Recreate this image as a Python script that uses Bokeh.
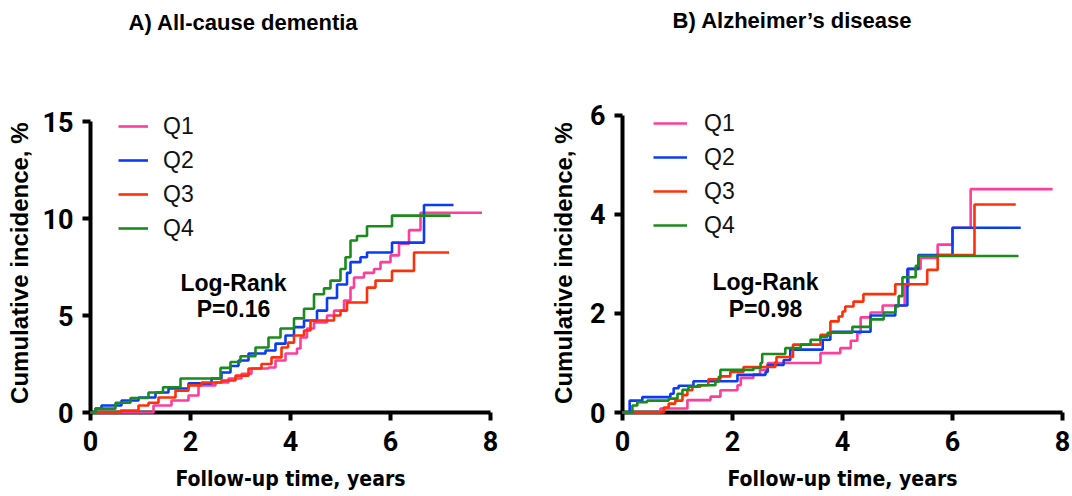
from bokeh.plotting import figure
from bokeh.models import Range1d, FixedTicker, Label, Legend, LegendItem
from bokeh.layouts import row
from bokeh.embed import file_html
from bokeh.resources import INLINE

SERIES = ["Q1", "Q2", "Q3", "Q4"]
COLORS = ["#FF3D9A", "#0B3CF5", "#FF3008", "#1B8B1B"]

# ---- Panel A: all-cause dementia (time in years, cumulative incidence %) ----
a_q1_t = [0, 1.26, 1.62, 1.96, 2.16, 2.5, 2.76, 3.02, 3.22, 3.56, 3.7, 3.9, 4.13, 4.2, 4.33, 4.47, 4.73, 4.87, 5.07, 5.2, 5.27, 5.47, 5.67, 5.8, 6.0, 6.17, 6.37, 6.6, 7.83]
a_q1_v = [0, 0.36, 0.62, 0.88, 1.4, 1.55, 1.75, 2.0, 2.27, 2.32, 2.68, 3.04, 3.3, 3.87, 4.33, 4.64, 5.0, 5.25, 5.77, 6.44, 6.96, 7.2, 7.4, 7.75, 8.1, 8.7, 9.4, 10.3, 10.3]
a_q2_t = [0, 0.1, 0.22, 0.62, 0.96, 1.3, 1.56, 1.96, 2.42, 2.62, 2.8, 2.96, 3.16, 3.5, 3.7, 3.9, 4.07, 4.27, 4.53, 4.73, 4.93, 5.13, 5.2, 5.4, 5.53, 6.03, 6.67, 7.26]
a_q2_v = [0, 0.2, 0.36, 0.62, 0.77, 1.03, 1.24, 1.5, 1.75, 2.06, 2.4, 2.68, 3.04, 3.2, 3.55, 3.97, 4.4, 4.74, 5.25, 5.9, 6.6, 7.2, 7.75, 8.0, 8.25, 8.76, 10.7, 10.7]
a_q3_t = [0, 0.6, 0.96, 1.16, 1.36, 1.7, 1.96, 2.22, 2.62, 2.9, 3.16, 3.42, 3.62, 3.82, 3.95, 4.07, 4.27, 4.4, 4.87, 5.0, 5.13, 5.53, 5.7, 6.03, 6.47, 7.17]
a_q3_v = [0, 0.1, 0.36, 0.5, 0.77, 1.13, 1.4, 1.55, 1.65, 1.9, 2.27, 2.5, 2.84, 3.35, 3.6, 3.97, 4.23, 4.74, 5.0, 5.25, 5.67, 6.44, 6.8, 7.3, 8.25, 8.25]
a_q4_t = [0, 0.1, 0.5, 0.8, 1.16, 1.45, 1.8, 2.6, 2.8, 3.0, 3.3, 3.56, 3.8, 4.07, 4.27, 4.47, 4.67, 4.8, 5.0, 5.1, 5.2, 5.33, 5.53, 6.03, 7.2]
a_q4_v = [0, 0.2, 0.5, 0.75, 1.03, 1.3, 1.75, 2.3, 2.6, 2.9, 3.35, 3.87, 4.33, 4.85, 5.35, 6.1, 6.4, 6.8, 7.4, 8.0, 8.87, 9.1, 9.6, 10.15, 10.15]

# ---- Panel B: Alzheimer's disease ----
b_q1_t = [0, 0.69, 1.18, 1.6, 1.78, 2.09, 2.15, 2.38, 2.5, 2.64, 3.6, 3.96, 4.15, 4.27, 4.33, 4.51, 4.73, 5.13, 5.2, 5.42, 5.73, 6.0, 6.33, 7.82]
b_q1_v = [0, 0.08, 0.25, 0.32, 0.45, 0.55, 0.7, 0.77, 0.86, 1.0, 1.2, 1.3, 1.45, 1.6, 1.92, 2.02, 2.16, 2.55, 2.9, 3.12, 3.39, 3.73, 4.51, 4.51]
b_q2_t = [0, 0.13, 0.36, 0.87, 0.93, 1.02, 1.29, 2.09, 2.6, 2.64, 2.93, 3.05, 3.64, 3.78, 4.51, 4.96, 5.18, 5.38, 6.0, 7.24]
b_q2_v = [0, 0.24, 0.31, 0.38, 0.49, 0.54, 0.63, 0.76, 0.82, 0.96, 1.06, 1.27, 1.47, 1.63, 1.96, 2.16, 2.9, 3.18, 3.73, 3.73]
b_q3_t = [0, 0.75, 0.84, 0.96, 1.09, 1.18, 1.27, 1.42, 1.56, 1.78, 1.96, 2.2, 2.78, 2.8, 3.1, 3.6, 3.78, 3.93, 4.0, 4.05, 4.2, 4.38, 4.96, 5.54, 5.73, 6.4, 7.15]
b_q3_v = [0, 0.1, 0.18, 0.24, 0.35, 0.45, 0.52, 0.55, 0.67, 0.73, 0.82, 0.92, 1.02, 1.12, 1.37, 1.57, 1.84, 1.94, 2.04, 2.14, 2.24, 2.39, 2.59, 2.88, 3.18, 4.2, 4.2]
b_q4_t = [0, 0.18, 0.27, 0.45, 0.84, 1.0, 1.09, 1.2, 1.36, 1.69, 1.75, 1.78, 2.38, 2.51, 2.54, 2.96, 3.24, 3.42, 3.6, 3.73, 4.18, 4.51, 4.75, 4.96, 5.02, 5.09, 5.33, 5.38, 7.2]
b_q4_v = [0, 0.14, 0.21, 0.24, 0.28, 0.38, 0.46, 0.52, 0.55, 0.62, 0.72, 0.86, 0.9, 1.0, 1.18, 1.3, 1.37, 1.47, 1.53, 1.61, 1.73, 1.88, 2.02, 2.14, 2.35, 2.73, 2.96, 3.16, 3.16]

X_TICKS = [0, 2, 4, 6, 8]
A_Y_TICKS = [0, 5, 10, 15]
B_Y_TICKS = [0, 2, 4, 6]

TITLE_A = "A) All-cause dementia"
TITLE_B = "B) Alzheimer\u2019s disease"
X_LABEL = "Follow-up time, years"
Y_LABEL = "Cumulative incidence, %"
STAT_A = ["Log-Rank", "P=0.16"]
STAT_B = ["Log-Rank", "P=0.98"]

SANS = "Liberation Sans"
COND = "'DejaVu Sans Condensed', 'DejaVu Sans', sans-serif"
# the y-axis label is centred on the whole (taller) frame; trailing no-break
# spaces move the visible words down so they sit beside the 0..max axis span
YLAB_PAD = "\u00a0" * 17


def make_panel(width, ymax, ytop, yticks, series, title, stat, title_pos, stat_pos,
               leg_loc, leg_glyph_w, leg_standoff, border_left, frame_w, ylab_standoff):
    p = figure(width=width, height=496, output_backend="svg", toolbar_location=None,
               x_range=Range1d(0, 8), y_range=Range1d(0, ytop),
               min_border_left=border_left, min_border_right=width - border_left - frame_w,
               min_border_top=0, min_border_bottom=84)
    p.outline_line_color = None
    p.grid.visible = False
    p.background_fill_color = "white"
    p.border_fill_color = "white"
    for ax in (p.xaxis[0], p.yaxis[0]):
        ax.axis_line_width = 4
        ax.axis_line_color = "black"
        ax.major_tick_line_width = 4
        ax.major_tick_line_color = "black"
        ax.major_tick_out = 8
        ax.major_tick_in = 0
        ax.minor_tick_line_color = None
        ax.major_label_text_font = "Roboto"
        ax.major_label_text_font_style = "bold"
        ax.major_label_text_font_size = "27px"
        ax.major_label_text_color = "black"
    p.xaxis.major_label_standoff = 10
    p.yaxis.major_label_standoff = 9
    p.yaxis.bounds = (0, ymax)
    p.xaxis.ticker = FixedTicker(ticks=X_TICKS)
    p.yaxis.ticker = FixedTicker(ticks=yticks)
    p.xaxis.axis_label = X_LABEL
    p.xaxis.axis_label_text_font = COND
    p.xaxis.axis_label_text_font_style = "bold"
    p.xaxis.axis_label_text_font_size = "21px"
    p.xaxis.axis_label_text_color = "black"
    p.xaxis.axis_label_standoff = 13
    p.yaxis.axis_label = Y_LABEL + YLAB_PAD
    p.yaxis.axis_label_text_font = SANS
    p.yaxis.axis_label_text_font_style = "bold"
    p.yaxis.axis_label_text_font_size = "24px"
    p.yaxis.axis_label_text_color = "black"
    p.yaxis.axis_label_standoff = ylab_standoff

    items = []
    for name, color, (t, v) in zip(SERIES, COLORS, series):
        r = p.step(t, v, mode="after", line_color=color, line_width=2.6)
        r.level = "overlay"
        items.append(LegendItem(label=name, renderers=[r]))
    leg = Legend(items=items, location=leg_loc, glyph_width=leg_glyph_w, glyph_height=34,
                 label_height=34, spacing=0, padding=0, margin=0, label_standoff=leg_standoff,
                 border_line_color=None, background_fill_alpha=0,
                 label_text_font=SANS, label_text_font_size="23px", label_text_color="#111111")
    p.add_layout(leg)

    p.add_layout(Label(x=title_pos[0], y=title_pos[1], text=title, text_align="center",
                       text_baseline="middle", text_font=SANS, text_font_style="bold",
                       text_font_size="22px", text_color="black"))
    for i, s in enumerate(stat):
        p.add_layout(Label(x=stat_pos[0], y=stat_pos[1 + i], text=s, text_align="center",
                           text_baseline="middle", text_font=SANS, text_font_style="bold",
                           text_font_size="23px", text_color="black"))
    return p


pa = make_panel(536, 15, 21.24, A_Y_TICKS,
                [(a_q1_t, a_q1_v), (a_q2_t, a_q2_v), (a_q3_t, a_q3_v), (a_q4_t, a_q4_v)],
                TITLE_A, STAT_A, (3.06, 20.1), (2.86, 6.7, 5.36), (28, 167), 30, 15, 90, 400, 7)
pb = make_panel(536, 6, 8.32, B_Y_TICKS,
                [(b_q1_t, b_q1_v), (b_q2_t, b_q2_v), (b_q3_t, b_q3_v), (b_q4_t, b_q4_v)],
                TITLE_B, STAT_B, (3.09, 7.92), (2.6, 2.63, 2.1), (31, 170), 34, 17, 86, 440, 10)

layout = row(pa, pb)
open("out.html", "w").write(file_html(layout, INLINE))
